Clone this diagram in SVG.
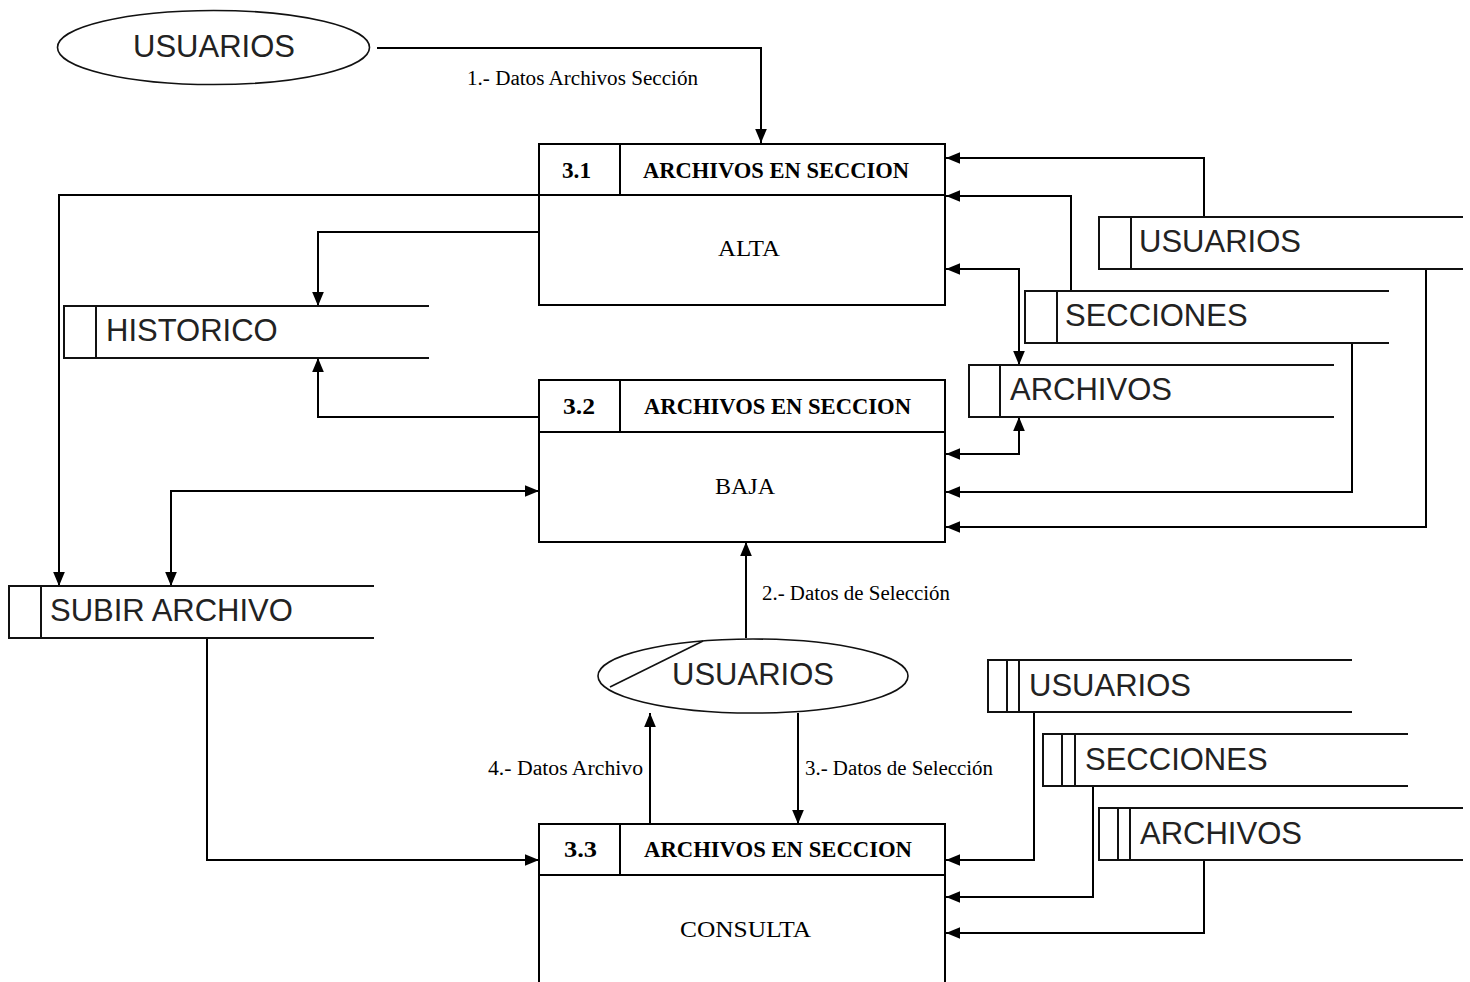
<svg xmlns="http://www.w3.org/2000/svg" width="1470" height="982" viewBox="0 0 1470 982">
<defs>
<marker id="arr" markerUnits="userSpaceOnUse" markerWidth="14" markerHeight="12" refX="12" refY="5" orient="auto-start-reverse" viewBox="0 0 12 10">
<path d="M0,0 L12,5 L0,10 z" fill="#000"/>
</marker>
<style>
.ln{fill:none;stroke:#000;stroke-width:2}
.box{fill:#fff;stroke:#000;stroke-width:2}
.st{fill:none;stroke:#111;stroke-width:2}
.ent{fill:#fff;stroke:#111;stroke-width:1.6}
.sans{font-family:"Liberation Sans",Arial,sans-serif;font-size:31px;fill:#222}
.hdr{font-family:"Liberation Serif","Times New Roman",serif;font-size:24px;font-weight:bold;fill:#000}
.bod{font-family:"Liberation Serif","Times New Roman",serif;font-size:24px;fill:#000}
.lbl{font-family:"Liberation Serif","Times New Roman",serif;font-size:20px;fill:#000}
</style>
</defs>
<rect width="1470" height="982" fill="#fff"/>

<g id="connectors">
<path class="ln" d="M377,48 H761 V143" marker-end="url(#arr)"/>
<path class="ln" d="M1204,217 V158 H946" marker-end="url(#arr)"/>
<path class="ln" d="M1071,291 V196 H946" marker-end="url(#arr)"/>
<path class="ln" d="M946,269 H1019 V365" marker-start="url(#arr)" marker-end="url(#arr)"/>
<path class="ln" d="M1019,417 V454 H946" marker-start="url(#arr)" marker-end="url(#arr)"/>
<path class="ln" d="M1352,343 V492 H946" marker-end="url(#arr)"/>
<path class="ln" d="M1426,269 V527 H946" marker-end="url(#arr)"/>
<path class="ln" d="M539,195 H59 V586" marker-end="url(#arr)"/>
<path class="ln" d="M539,232 H318 V306" marker-end="url(#arr)"/>
<path class="ln" d="M539,417 H318 V358" marker-end="url(#arr)"/>
<path class="ln" d="M171,586 V491 H539" marker-start="url(#arr)" marker-end="url(#arr)"/>
<path class="ln" d="M207,638 V860 H539" marker-end="url(#arr)"/>
<path class="ln" d="M746,638 V542" marker-end="url(#arr)"/>
<path class="ln" d="M650,824 V713" marker-end="url(#arr)"/>
<path class="ln" d="M798,713 V824" marker-end="url(#arr)"/>
<path class="ln" d="M1034,712 V860 H946" marker-end="url(#arr)"/>
<path class="ln" d="M1093,786 V897 H946" marker-end="url(#arr)"/>
<path class="ln" d="M1204,860 V933 H946" marker-end="url(#arr)"/>
<text class="lbl" x="467" y="85" textLength="231" lengthAdjust="spacingAndGlyphs">1.- Datos Archivos Sección</text>
<text class="lbl" x="762" y="600" textLength="188" lengthAdjust="spacingAndGlyphs">2.- Datos de Selección</text>
<text class="lbl" x="805" y="775" textLength="188" lengthAdjust="spacingAndGlyphs">3.- Datos de Selección</text>
<text class="lbl" x="488" y="775" textLength="155" lengthAdjust="spacingAndGlyphs">4.- Datos Archivo</text>
</g>

<g id="ent-usuarios-top">
<ellipse class="ent" cx="213.5" cy="47.5" rx="156" ry="37"/>
<text class="sans" x="133" y="57">USUARIOS</text>
</g>

<g id="ent-usuarios-mid">
<ellipse class="ent" cx="753" cy="676" rx="155" ry="37"/>
<line class="ent" x1="703" y1="641" x2="610" y2="687"/>
<text class="sans" x="672" y="685">USUARIOS</text>
</g>

<g id="p31">
<rect class="box" x="539" y="144" width="406" height="161"/>
<path class="ln" d="M539,195 H945 M620,144 V195"/>
<text class="hdr" x="562" y="178" textLength="29" lengthAdjust="spacingAndGlyphs">3.1</text>
<text class="hdr" x="643" y="178" textLength="266" lengthAdjust="spacingAndGlyphs">ARCHIVOS EN SECCION</text>
<text class="bod" x="718" y="256" textLength="62" lengthAdjust="spacingAndGlyphs">ALTA</text>
</g>

<g id="p32">
<rect class="box" x="539" y="380" width="406" height="162"/>
<path class="ln" d="M539,432 H945 M620,380 V432"/>
<text class="hdr" x="563" y="414" textLength="32" lengthAdjust="spacingAndGlyphs">3.2</text>
<text class="hdr" x="644" y="414" textLength="267" lengthAdjust="spacingAndGlyphs">ARCHIVOS EN SECCION</text>
<text class="bod" x="715" y="494" textLength="60" lengthAdjust="spacingAndGlyphs">BAJA</text>
</g>

<g id="p33">
<rect class="box" x="539" y="824" width="406" height="170"/>
<path class="ln" d="M539,875 H945 M620,824 V875"/>
<text class="hdr" x="564" y="857" textLength="33" lengthAdjust="spacingAndGlyphs">3.3</text>
<text class="hdr" x="644" y="857" textLength="268" lengthAdjust="spacingAndGlyphs">ARCHIVOS EN SECCION</text>
<text class="bod" x="680" y="937" textLength="131" lengthAdjust="spacingAndGlyphs">CONSULTA</text>
</g>

<g id="ds-usuarios-1">
<path class="st" d="M1463,217 H1099 V269 H1463 M1131,217 V269"/>
<text class="sans" x="1139" y="252">USUARIOS</text>
</g>
<g id="ds-secciones-1">
<path class="st" d="M1389,291 H1025 V343 H1389 M1057,291 V343"/>
<text class="sans" x="1065" y="326">SECCIONES</text>
</g>
<g id="ds-archivos-1">
<path class="st" d="M1334,365 H969 V417 H1334 M1000,365 V417"/>
<text class="sans" x="1010" y="400">ARCHIVOS</text>
</g>
<g id="ds-historico">
<path class="st" d="M429,306 H64 V358 H429 M96,306 V358"/>
<text class="sans" x="106" y="341">HISTORICO</text>
</g>
<g id="ds-subir-archivo">
<path class="st" d="M374,586 H9 V638 H374 M41,586 V638"/>
<text class="sans" x="50" y="621">SUBIR ARCHIVO</text>
</g>
<g id="ds-usuarios-2">
<path class="st" d="M1352,660 H988 V712 H1352 M1007,660 V712 M1019,660 V712"/>
<text class="sans" x="1029" y="696">USUARIOS</text>
</g>
<g id="ds-secciones-2">
<path class="st" d="M1408,734 H1043 V786 H1408 M1062,734 V786 M1075,734 V786"/>
<text class="sans" x="1085" y="770">SECCIONES</text>
</g>
<g id="ds-archivos-2">
<path class="st" d="M1463,808 H1099 V860 H1463 M1118,808 V860 M1130,808 V860"/>
<text class="sans" x="1140" y="844">ARCHIVOS</text>
</g>
</svg>
